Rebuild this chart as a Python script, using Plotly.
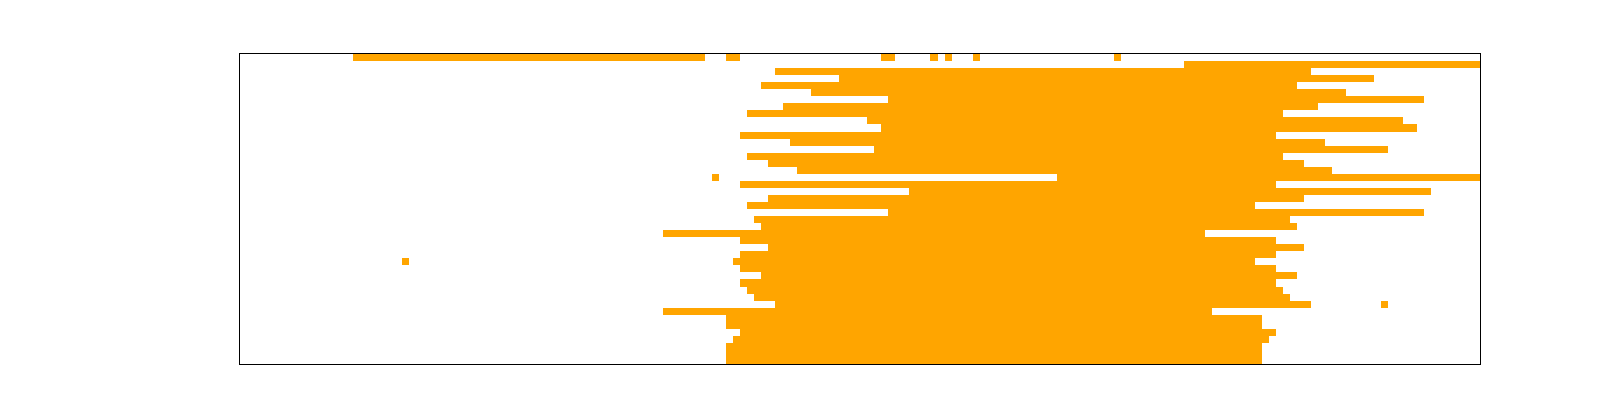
import numpy as np
import plotly.graph_objects as go

n_rows = 44
n_cols = 176

# main orange run per row: start column (inclusive), end column (exclusive)
main_start = [None, 134, 76, 85, 74, 81, 92, 77, 72, 89,
              91, 71, 78, 90, 72, 75, 79, 116, 71, 95,
              75, 72, 92, 73, 74, 60, 71, 75, 71, 70,
              71, 74, 71, 72, 73, 76, 60, 69, 69, 71,
              70, 69, 69, 69]
main_end = [None, 176, 152, 161, 150, 157, 168, 153, 148, 165,
            167, 147, 154, 163, 148, 151, 155, 176, 147, 169,
            151, 144, 168, 149, 150, 137, 147, 151, 147, 144,
            147, 150, 147, 148, 149, 152, 138, 145, 145, 147,
            146, 145, 145, 145]

# additional orange runs: row, start column, end column (exclusive)
extra_rows = [0, 0, 0, 0, 0, 0, 0, 17, 29, 35]
extra_start = [16, 69, 91, 98, 100, 104, 124, 67, 23, 162]
extra_end = [66, 71, 93, 99, 101, 105, 125, 68, 24, 163]

z = np.zeros((n_rows, n_cols))
for r in range(n_rows):
    if main_start[r] is not None:
        z[r, main_start[r]:main_end[r]] = 1
for r, s, e in zip(extra_rows, extra_start, extra_end):
    z[r, s:e] = 1

fig = go.Figure(go.Heatmap(
    z=z,
    x=list(range(n_cols)),
    y=list(range(n_rows)),
    colorscale=[[0, "white"], [1, "#FFA500"]],
    zmin=0, zmax=1,
    showscale=False,
    zsmooth=False,
))

fig.update_layout(
    width=1600, height=400,
    margin=dict(l=232, r=128, t=46, b=44),
    paper_bgcolor="white",
    plot_bgcolor="white",
)
fig.update_xaxes(range=[-0.5, n_cols - 0.5], showgrid=False, zeroline=False,
                 showticklabels=False, ticks="", showline=True, mirror=True,
                 linecolor="black", linewidth=1)
fig.update_yaxes(range=[n_rows - 0.5, -0.5], showgrid=False, zeroline=False,
                 showticklabels=False, ticks="", showline=True, mirror=True,
                 linecolor="black", linewidth=1)

fig.write_html("out.html")
